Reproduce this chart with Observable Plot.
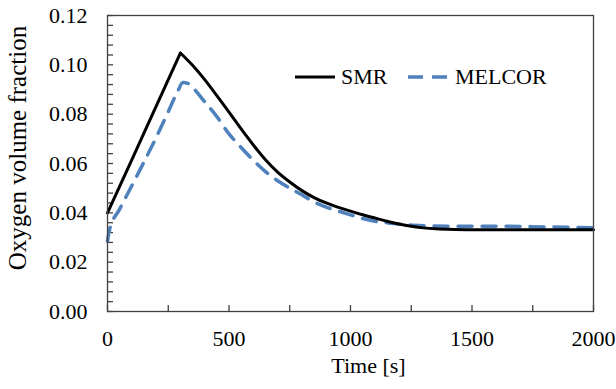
<!DOCTYPE html>
<html>
<head>
<meta charset="utf-8">
<script src="https://cdn.jsdelivr.net/npm/d3@7"></script>
<script src="https://cdn.jsdelivr.net/npm/@observablehq/plot@0.6"></script>
<style>
  html, body { margin: 0; padding: 0; background: #fff; }
  #wrap { position: relative; width: 616px; height: 389px; font-family: "Liberation Serif", "Times New Roman", Tinos, "Noto Serif", "DejaVu Serif", FreeSerif, Times, serif; }
  #wrap svg text { font-family: "Liberation Serif", "Times New Roman", Tinos, "Noto Serif", "DejaVu Serif", FreeSerif, Times, serif !important; }
  #legend { position: absolute; left: 0; top: 0; pointer-events: none; }
</style>
</head>
<body>
<div id="wrap"></div>
<script>
// ---- data ----
const smrTime = [0, 100, 200, 300, 350, 400, 450, 500, 550, 600, 650, 700, 750, 800, 850, 900, 950, 1000, 1050, 1100, 1150, 1200, 1250, 1300, 1350, 1400, 1500, 1750, 2000];
const smrO2   = [0.0400, 0.0615, 0.0832, 0.1048, 0.0998, 0.0940, 0.0875, 0.0808, 0.0740, 0.0675, 0.0615, 0.0565, 0.0525, 0.0490, 0.0462, 0.0440, 0.0422, 0.0407, 0.0392, 0.0379, 0.0366, 0.0355, 0.0346, 0.0339, 0.0335, 0.0333, 0.0331, 0.0331, 0.0331];

const melTime = [0, 8, 50, 100, 200, 250, 290, 310, 330, 350, 400, 450, 500, 550, 600, 650, 700, 750, 800, 850, 900, 950, 1000, 1050, 1100, 1150, 1200, 1300, 1400, 1600, 1800, 2000];
const melO2   = [0.0285, 0.0330, 0.0415, 0.0510, 0.0705, 0.0810, 0.0895, 0.0928, 0.0925, 0.0908, 0.0850, 0.0790, 0.0720, 0.0665, 0.0613, 0.0567, 0.0530, 0.0500, 0.0473, 0.0444, 0.0423, 0.0407, 0.0392, 0.0377, 0.0366, 0.0360, 0.0354, 0.0348, 0.0346, 0.0346, 0.0343, 0.0339];

const seriesNames = ["SMR", "MELCOR"];
const yTickValues = [0, 0.02, 0.04, 0.06, 0.08, 0.10, 0.12];
const xTickValues = [0, 500, 1000, 1500, 2000];
const yMinorTicks = d3.range(0, 0.1201, 0.004);
const xMinorTicks = [0, 250, 500, 750, 1000, 1250, 1500, 1750, 2000];
const xTitle = "Time [s]";
const yTitle = "Oxygen volume fraction";

// SMR drawn as rising and decaying branches so the peak stays sharp
const smrPeak = d3.maxIndex(smrO2);
const smr = [];
smrTime.forEach((t, i) => {
  if (i <= smrPeak) smr.push({t, v: smrO2[i], seg: "rise"});
  if (i >= smrPeak) smr.push({t, v: smrO2[i], seg: "decay"});
});
const mel = melTime.map((t, i) => ({t, v: melO2[i]}));

const axisColor = "#404040";
const blue = "#4f81bd";
const serif = '"Liberation Serif", "Times New Roman", Tinos, "Noto Serif", "DejaVu Serif", FreeSerif, Times, serif';
const W = 616, H = 389, mL = 107, mR = 23, mT = 15, mB = 78;
const pw = W - mL - mR, ph = H - mT - mB;

const chart = Plot.plot({
  width: W, height: H,
  marginLeft: mL, marginRight: mR, marginTop: mT, marginBottom: mB,
  style: {fontFamily: serif, color: "#000", background: "#fff", overflow: "visible"},
  x: {domain: [0, 2000]},
  y: {domain: [0, 0.12]},
  marks: [
    Plot.ruleY(yMinorTicks, {y: d => d, insetRight: pw - 6, stroke: axisColor, strokeWidth: 1.3}),
    Plot.ruleX(xMinorTicks, {x: d => d, insetTop: ph - 6, stroke: axisColor, strokeWidth: 1.3}),
    Plot.axisY(yTickValues, {tickSize: 0, tickPadding: 20, tickFormat: d3.format(".2f"), fontSize: 22, label: null}),
    Plot.axisX(xTickValues, {tickSize: 0, tickPadding: 19, tickFormat: d3.format("d"), fontSize: 22, label: null}),
    Plot.line(mel, {x: "t", y: "v", stroke: blue, strokeWidth: 3.5, strokeDasharray: "14,10", curve: "monotone-x"}),
    Plot.line(smr, {x: "t", y: "v", z: "seg", stroke: "#000", strokeWidth: 3, curve: "monotone-x"}),
    Plot.frame({stroke: axisColor, strokeWidth: 1.3}),
    Plot.text([xTitle], {text: d => d, frameAnchor: "bottom", textAnchor: "middle", dx: 18, dy: 54, lineAnchor: "middle", fontSize: 22}),
    Plot.text([yTitle], {text: d => d, frameAnchor: "left", textAnchor: "middle", rotate: -90, dx: -90, dy: -15.5, lineAnchor: "middle", fontSize: 25})
  ]
});

const wrap = document.getElementById("wrap");
wrap.appendChild(chart);

// legend overlay
const ns = "http://www.w3.org/2000/svg";
const leg = document.createElementNS(ns, "svg");
leg.setAttribute("id", "legend");
leg.setAttribute("width", W);
leg.setAttribute("height", H);
const legItems = [
  {name: seriesNames[0], x1: 295, x2: 335, tx: 341, stroke: "#000", sw: 3, dash: null},
  {name: seriesNames[1], x1: 408, x2: 447, tx: 455, stroke: blue, sw: 3.5, dash: "15,9"}
];
for (const it of legItems) {
  const l = document.createElementNS(ns, "line");
  l.setAttribute("x1", it.x1); l.setAttribute("x2", it.x2);
  l.setAttribute("y1", 77); l.setAttribute("y2", 77);
  l.setAttribute("stroke", it.stroke); l.setAttribute("stroke-width", it.sw);
  if (it.dash) l.setAttribute("stroke-dasharray", it.dash);
  leg.appendChild(l);
  const t = document.createElementNS(ns, "text");
  t.setAttribute("x", it.tx); t.setAttribute("y", 84);
  t.setAttribute("font-size", 22);
  t.setAttribute("fill", "#000");
  t.textContent = it.name;
  leg.appendChild(t);
}
wrap.appendChild(leg);
</script>
</body>
</html>
